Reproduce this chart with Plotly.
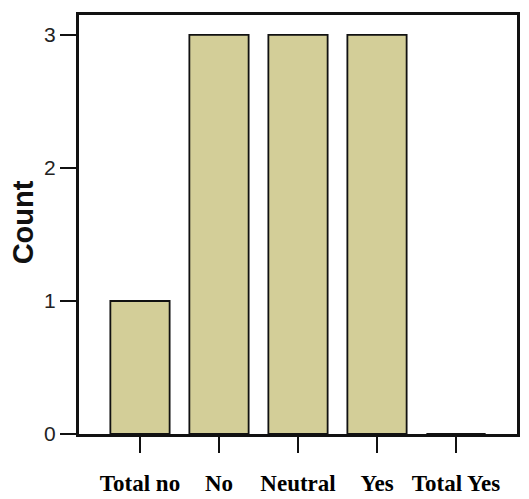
import plotly.graph_objects as go

# Response categories and their counts
categories = ["Total no", "No", "Neutral", "Yes", "Total Yes"]
counts = [1, 3, 3, 3, 0]
y_ticks = [0, 1, 2, 3]

fig = go.Figure(
    go.Bar(
        x=categories,
        y=counts,
        width=0.75,
        marker=dict(color="#D3CE98", line=dict(color="#111111", width=1.8)),
    )
)

fig.update_layout(
    width=529,
    height=499,
    margin=dict(l=79, r=12, t=15, b=65),
    plot_bgcolor="white",
    paper_bgcolor="white",
    showlegend=False,
    annotations=[
        dict(
            text="<b>Count</b>",
            textangle=-90,
            xref="paper",
            yref="paper",
            x=-0.128,
            y=0.505,
            xanchor="center",
            yanchor="middle",
            showarrow=False,
            font=dict(family="Liberation Sans", size=29, color="#111111"),
        )
    ],
)

fig.update_xaxes(
    type="category",
    range=[-0.772, 4.772],
    automargin=False,
    showline=True,
    mirror=True,
    linecolor="#111111",
    linewidth=3,
    ticks="outside",
    ticklen=16,
    tickwidth=2,
    tickcolor="#111111",
    ticklabelstandoff=10,
    tickfont=dict(family="Liberation Serif", size=23, color="black", weight="bold"),
    showgrid=False,
    zeroline=False,
)

fig.update_yaxes(
    range=[0, 3.15],
    automargin=False,
    tickvals=y_ticks,
    ticktext=[str(v) for v in y_ticks],
    showline=True,
    mirror=True,
    linecolor="#111111",
    linewidth=3,
    ticks="outside",
    ticklen=16,
    tickwidth=2,
    tickcolor="#111111",
    tickfont=dict(family="Liberation Sans", size=21, color="#222222"),
    showgrid=False,
    zeroline=False,
)

fig.write_html("out.html")
